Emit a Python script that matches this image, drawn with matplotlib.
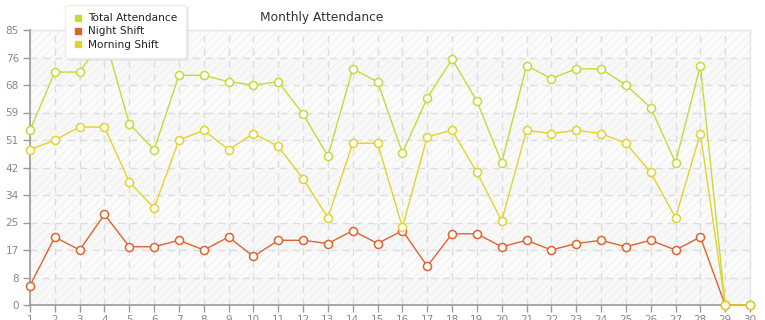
import matplotlib
matplotlib.use("Agg")
import matplotlib.pyplot as plt
from matplotlib.patches import Rectangle
from matplotlib.lines import Line2D

plt.rcParams['font.family'] = ['DejaVu Sans']
plt.rcParams['hatch.linewidth'] = 0.6

days = list(range(1, 31))
total_attendance = [54, 72, 72, 83, 56, 48, 71, 71, 69, 68, 69, 59, 46, 73, 69,
                    47, 64, 76, 63, 44, 74, 70, 73, 73, 68, 61, 44, 74, 0, 0]
night_shift = [6, 21, 17, 28, 18, 18, 20, 17, 21, 15, 20, 20, 19, 23, 19,
               23, 12, 22, 22, 18, 20, 17, 19, 20, 18, 20, 17, 21, 0, 0]
morning_shift = [48, 51, 55, 55, 38, 30, 51, 54, 48, 53, 49, 39, 27, 50, 50,
                 24, 52, 54, 41, 26, 54, 53, 54, 53, 50, 41, 27, 53, 0, 0]
y_ticks = [0, 8.5, 17, 25.5, 34, 42.5, 51, 59.5, 68, 76.5, 85]
y_tick_labels = ['0', '8', '17', '25', '34', '42', '51', '59', '68', '76', '85']

series = [
    ("Total Attendance", total_attendance, "#c2dc3a"),
    ("Night Shift", night_shift, "#e0632e"),
    ("Morning Shift", morning_shift, "#e2d42c"),
]

W, H = 765, 320
fig = plt.figure(figsize=(W / 100, H / 100), dpi=100)
fig.patch.set_facecolor("white")
ax = fig.add_axes([30 / W, 1 - 305 / H, 720 / W, 275 / H])
ax.set_xlim(1, 30)
ax.set_ylim(0, 85)

# background bands + hatching
ax.set_facecolor("white")
for i in range(len(y_ticks) - 1):
    ax.axhspan(y_ticks[i], y_ticks[i + 1],
               color="#f8f8f8" if i % 2 == 0 else "#fbfbfb", lw=0, zorder=0)
ax.add_patch(Rectangle((0, 0), 1, 1, transform=ax.transAxes, facecolor="none",
                       edgecolor="#efefef", hatch="////", lw=0, zorder=0.5))

ax.grid(True, color="#dddddd", linestyle=(0, (5, 4)), linewidth=1, zorder=1)
ax.set_axisbelow(True)

for name, vals, col in series:
    ax.plot(days, vals, color=col, lw=1, marker="o", markersize=5.8,
            markerfacecolor="white", markeredgecolor=col, markeredgewidth=1.1,
            clip_on=False, zorder=3, label=name)

ax.set_xticks(days)
ax.set_xticklabels([str(d) for d in days])
ax.set_yticks(y_ticks)
ax.set_yticklabels(y_tick_labels)
ax.tick_params(axis="both", colors="#999999", labelcolor="#888888",
               labelsize=7.5, length=5, width=1)
ax.tick_params(axis="y", pad=3)
ax.tick_params(axis="x", pad=2)
for s in ["top", "right"]:
    ax.spines[s].set_visible(False)
for s in ["left", "bottom"]:
    ax.spines[s].set_color("#999999")
    ax.spines[s].set_linewidth(1.2)
ax.axvline(30, color="#e6e6e6", lw=1, zorder=1, clip_on=False)
ax.axhline(85, color="#e6e6e6", lw=1, zorder=1, clip_on=False)

fig.text(322 / W, 1 - 17 / H, "Monthly Attendance", ha="center", va="center",
         fontsize=8.8, color="#333333")

handles = [Line2D([], [], marker="s", linestyle="none", markersize=4.5,
                  markerfacecolor=c, markeredgecolor=c) for _, _, c in series]
leg = fig.legend(handles, [n for n, _, _ in series], loc="lower left",
                 bbox_to_anchor=(65 / W, 1 - 58 / H), bbox_transform=fig.transFigure,
                 fontsize=7.6, frameon=True, fancybox=True, framealpha=1,
                 edgecolor="#eeeeee", facecolor="white", handlelength=0.8,
                 handletextpad=0.6, labelspacing=0.3, borderpad=0.8,
                 borderaxespad=0,
                 shadow={"color": "#dddddd", "alpha": 0.6, "ox": 1.5, "oy": -1.5})
leg.set_zorder(10)
for t in leg.get_texts():
    t.set_color("#222222")

fig.savefig("out.png", dpi=100)
